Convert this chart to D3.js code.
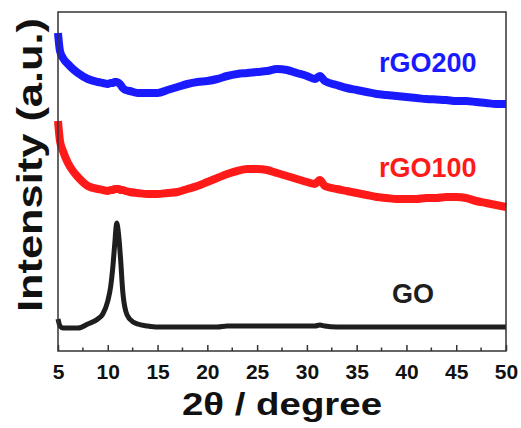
<!DOCTYPE html>
<html>
<head>
<meta charset="utf-8">
<script src="https://cdn.jsdelivr.net/npm/d3@7"></script>
<style>
  body { margin: 0; background: #fff; }
  text { font-family: Arial, "Liberation Sans", sans-serif; font-weight: bold; }
</style>
</head>
<body>
<svg width="521" height="428"></svg>
<script>
var svg = d3.select("svg"),
  width = +svg.attr("width"),
  height = +svg.attr("height");

// 2-theta sampling (degree)
var theta = [5, 5.2, 5.5, 6, 6.5, 7, 8, 9, 9.5, 10, 10.3, 10.5, 10.7, 10.9, 11.1, 11.3, 11.5, 11.8, 12.2,
  13, 14, 15, 16, 17, 18, 19, 20, 21, 22, 23, 24, 25, 26, 27, 28, 29, 30, 30.8, 31.3, 31.8,
  33, 34, 35, 36, 37, 38, 39, 40, 41, 42, 43, 44, 45, 46, 47, 48, 49, 50];

// intensities (a.u., stacked with offsets as in the figure)
var goI = [32, 25, 23, 23, 23, 23, 27, 32, 37, 50, 65, 83, 107, 128, 115, 90, 60, 40, 32,
  27, 25, 24, 24, 24, 24, 24, 24, 24, 25, 25, 25, 25, 25, 25, 25, 25, 25, 25, 26, 25,
  24, 24, 24, 24, 24, 24, 24, 24, 24, 24, 24, 24, 24, 24, 24, 24, 24, 24];

var rgo100I = [230, 210, 200, 188, 180, 174, 165, 162, 161, 160, 161, 161, 162, 162, 162, 161, 161, 160, 159,
  158, 157, 157, 158, 159, 162, 165, 169, 173, 177, 180, 182, 182, 181, 178, 175, 172, 169, 167, 171, 165,
  162, 160, 158, 156, 154, 153, 152, 152, 152, 153, 153, 154, 154, 153, 150, 148, 146, 144];

var rgo200I = [318, 300, 293, 287, 282, 278, 272, 269, 268, 267, 268, 268, 269, 269, 268, 266, 263, 261, 260,
  258, 258, 258, 261, 264, 267, 269, 270, 272, 275, 277, 278, 279, 280, 282, 281, 278, 275, 272, 275, 270,
  266, 263, 261, 259, 257, 256, 255, 254, 253, 252, 251.5, 251, 250, 250, 249, 248, 247, 247];

var seriesNames = ["GO", "rGO100", "rGO200"];
var seriesColors = ["#1e1e1e", "#ff1a1a", "#1a1aff"];
var xTicks = [5, 10, 15, 20, 25, 30, 35, 40, 45, 50];

var plot = { left: 58, top: 12, right: 506, bottom: 351 };

var x = d3.scaleLinear().domain([5, 50]).range([plot.left, plot.right]);
var y = d3.scaleLinear().domain([0, 339]).range([plot.bottom, plot.top]);

var line = d3.line()
  .x(function(d) { return x(d[0]); })
  .y(function(d) { return y(d[1]); })
  .curve(d3.curveMonotoneX);

var allI = [goI, rgo100I, rgo200I];

// curves
allI.forEach(function(vals, i) {
  var pts = theta.map(function(t, k) { return [t, vals[k]]; });
  svg.append("path")
    .datum(pts)
    .attr("fill", "none")
    .attr("stroke", seriesColors[i])
    .attr("stroke-width", i == 0 ? 5 : 8)
    .attr("stroke-linejoin", "round")
    .attr("stroke-linecap", "butt")
    .attr("d", line);
});

// series labels
var labelPos = [[392, 303], [379, 177], [379, 72]];
seriesNames.forEach(function(name, i) {
  svg.append("text")
    .attr("x", labelPos[i][0])
    .attr("y", labelPos[i][1])
    .attr("fill", seriesColors[i])
    .style("font-size", "27px")
    .text(name);
});

// frame
svg.append("rect")
  .attr("x", plot.left)
  .attr("y", plot.top)
  .attr("width", plot.right - plot.left)
  .attr("height", plot.bottom - plot.top)
  .attr("fill", "none")
  .attr("stroke", "#333")
  .attr("stroke-width", 1.5);

// bottom axis, ticks pointing inward
var xAxis = d3.axisBottom(x)
  .tickValues(xTicks)
  .tickSize(-6)
  .tickPadding(13)
  .tickFormat(d3.format("d"));

var gx = svg.append("g")
  .attr("transform", "translate(0," + plot.bottom + ")")
  .call(xAxis);
gx.select(".domain").remove();
gx.selectAll(".tick line").attr("stroke", "#333").attr("stroke-width", 1.5);
gx.selectAll(".tick text")
  .attr("fill", "#111")
  .style("font-size", "21px")
  .style("font-family", "Arial, 'Liberation Sans', sans-serif")
  .style("font-weight", "bold");

// minor ticks
var minor = xTicks.slice(0, -1).map(function(t) { return t + 2.5; });
gx.selectAll(".minor")
  .data(minor)
  .enter().append("line")
  .attr("x1", function(d) { return x(d); })
  .attr("x2", function(d) { return x(d); })
  .attr("y1", 0)
  .attr("y2", -3.5)
  .attr("stroke", "#333")
  .attr("stroke-width", 1.5);

// axis titles
svg.append("text")
  .attr("x", 282)
  .attr("y", 415)
  .attr("text-anchor", "middle")
  .attr("fill", "#111")
  .attr("textLength", 200)
  .attr("lengthAdjust", "spacingAndGlyphs")
  .style("font-size", "32px")
  .text("2θ / degree");

svg.append("text")
  .attr("transform", "translate(42,165) rotate(-90)")
  .attr("text-anchor", "middle")
  .attr("fill", "#111")
  .attr("textLength", 294)
  .attr("lengthAdjust", "spacingAndGlyphs")
  .style("font-size", "35px")
  .text("Intensity (a.u.)");
</script>
</body>
</html>
